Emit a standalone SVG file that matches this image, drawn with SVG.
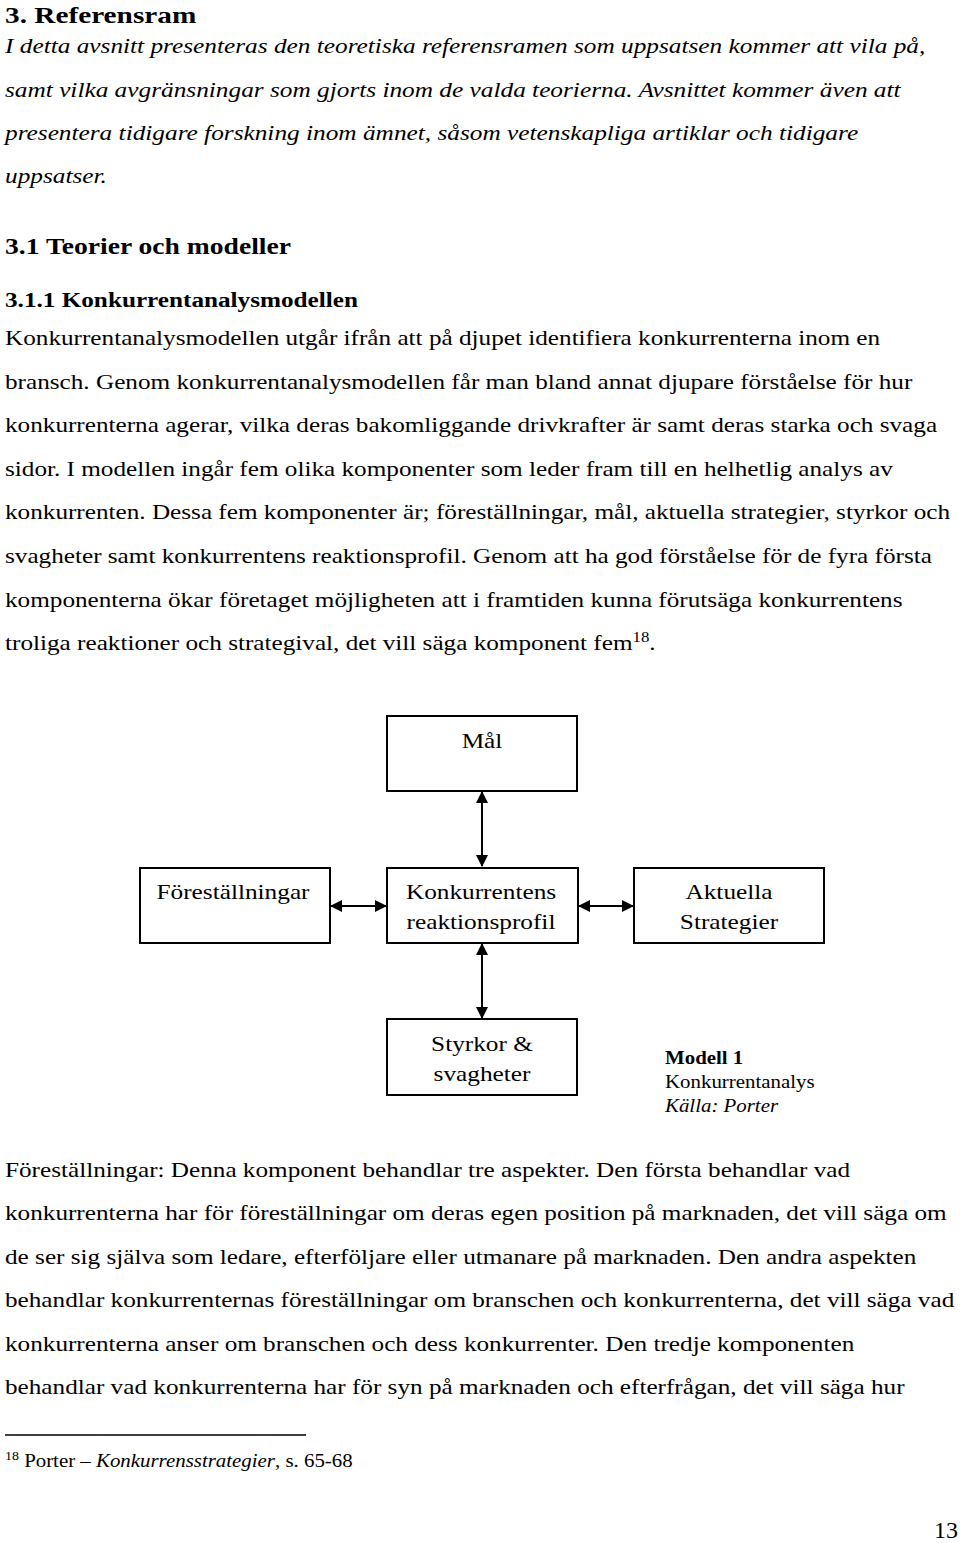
<svg xmlns="http://www.w3.org/2000/svg" width="960" height="1543" viewBox="0 0 960 1543">
<style>
text{font-family:"Liberation Serif","Times New Roman",serif;fill:#000}
.h{font-weight:bold;font-size:24px}
.h2{font-weight:bold;font-size:22px}
.b{font-size:21px}
.i{font-size:21px;font-style:italic}
.n{font-size:22px;text-anchor:middle}
.c{font-size:18px}
.box{fill:#fff;stroke:#000;stroke-width:2}
.con{stroke:#000;stroke-width:2;fill:none;marker-start:url(#ah);marker-end:url(#ah)}
</style>
<defs>
<marker id="ah" viewBox="0 0 12 12" refX="11" refY="6" markerWidth="12" markerHeight="12" markerUnits="userSpaceOnUse" orient="auto-start-reverse">
<path d="M0,0 L12,6 L0,12 Z" fill="#000"/>
</marker>
</defs>
<rect width="960" height="1543" fill="#fff"/>
<g id="text-top">
<text class="h" transform="translate(5 0) scale(1.22 1)" x="0" y="23">3. Referensram</text>
<g transform="translate(5 0) scale(1.205 1)">
<text class="i" x="0" y="53">I detta avsnitt presenteras den teoretiska referensramen som uppsatsen kommer att vila på,</text>
<text class="i" x="0" y="97">samt vilka avgränsningar som gjorts inom de valda teorierna. Avsnittet kommer även att</text>
<text class="i" x="0" y="140">presentera tidigare forskning inom ämnet, såsom vetenskapliga artiklar och tidigare</text>
<text class="i" x="0" y="183">uppsatser.</text>
</g>
<g transform="translate(5 0) scale(1.2 1)">
<text class="h2" x="0" y="254" style="font-size:23px">3.1 Teorier och modeller</text>
<text class="h2" x="0" y="307" style="font-size:21px">3.1.1 Konkurrentanalysmodellen</text>
<text class="b" x="0" y="345">Konkurrentanalysmodellen utgår ifrån att på djupet identifiera konkurrenterna inom en</text>
<text class="b" x="0" y="388.6">bransch. Genom konkurrentanalysmodellen får man bland annat djupare förståelse för hur</text>
<text class="b" x="0" y="432.2">konkurrenterna agerar, vilka deras bakomliggande drivkrafter är samt deras starka och svaga</text>
<text class="b" x="0" y="475.8">sidor. I modellen ingår fem olika komponenter som leder fram till en helhetlig analys av</text>
<text class="b" x="0" y="519.4">konkurrenten. Dessa fem komponenter är; föreställningar, mål, aktuella strategier, styrkor och</text>
<text class="b" x="0" y="563">svagheter samt konkurrentens reaktionsprofil. Genom att ha god förståelse för de fyra första</text>
<text class="b" x="0" y="606.6">komponenterna ökar företaget möjligheten att i framtiden kunna förutsäga konkurrentens</text>
<text class="b" x="0" y="650.2">troliga reaktioner och strategival, det vill säga komponent fem<tspan style="font-size:14px" dy="-8">18</tspan><tspan dy="8">.</tspan></text>
</g>
</g>
<g id="connectors">
<line class="con" x1="482" y1="792" x2="482" y2="866"/>
<line class="con" x1="482" y1="944" x2="482" y2="1018"/>
<line class="con" x1="331" y1="906" x2="386" y2="906"/>
<line class="con" x1="579" y1="906" x2="633" y2="906"/>
</g>
<g id="node-mal">
<rect class="box" x="387" y="716" width="190" height="75"/>
<text class="n" transform="translate(482 0) scale(1.15 1)" x="0" y="748">Mål</text>
</g>
<g id="node-forestallningar">
<rect class="box" x="140" y="868" width="190" height="75"/>
<text class="n" transform="translate(233 0) scale(1.15 1)" x="0" y="899">Föreställningar</text>
</g>
<g id="node-reaktionsprofil">
<rect class="box" x="387" y="868" width="191" height="75"/>
<g transform="translate(481 0) scale(1.15 1)">
<text class="n" x="0" y="899">Konkurrentens</text>
<text class="n" x="0" y="929">reaktionsprofil</text>
</g>
</g>
<g id="node-aktuella">
<rect class="box" x="634" y="868" width="190" height="75"/>
<g transform="translate(729 0) scale(1.15 1)">
<text class="n" x="0" y="899">Aktuella</text>
<text class="n" x="0" y="929">Strategier</text>
</g>
</g>
<g id="node-styrkor">
<rect class="box" x="387" y="1019" width="190" height="76"/>
<g transform="translate(482 0) scale(1.15 1)">
<text class="n" x="0" y="1051">Styrkor &amp;</text>
<text class="n" x="0" y="1081">svagheter</text>
</g>
</g>
<g id="caption" transform="translate(665 0) scale(1.16 1)">
<text class="c" x="0" y="1064" style="font-weight:bold">Modell 1</text>
<text class="c" x="0" y="1088">Konkurrentanalys</text>
<text class="c" x="0" y="1112" style="font-style:italic">Källa: Porter</text>
</g>
<g id="text-bottom">
<g transform="translate(5 0) scale(1.2 1)">
<text class="b" x="0" y="1177">Föreställningar: Denna komponent behandlar tre aspekter. Den första behandlar vad</text>
<text class="b" x="0" y="1220.5">konkurrenterna har för föreställningar om deras egen position på marknaden, det vill säga om</text>
<text class="b" x="0" y="1264">de ser sig själva som ledare, efterföljare eller utmanare på marknaden. Den andra aspekten</text>
<text class="b" x="0" y="1307.5">behandlar konkurrenternas föreställningar om branschen och konkurrenterna, det vill säga vad</text>
<text class="b" x="0" y="1351">konkurrenterna anser om branschen och dess konkurrenter. Den tredje komponenten</text>
<text class="b" x="0" y="1394.5">behandlar vad konkurrenterna har för syn på marknaden och efterfrågan, det vill säga hur</text>
</g>
<line x1="5" y1="1435" x2="306" y2="1435" stroke="#000" stroke-width="1.5"/>
<text x="0" y="1467" class="c" transform="translate(5 0) scale(1.16 1)"><tspan style="font-size:12px" dy="-7">18</tspan><tspan dy="7"> Porter – </tspan><tspan style="font-style:italic">Konkurrensstrategier</tspan>, s. 65-68</text>
<text x="958" y="1538" style="font-size:24px" text-anchor="end">13</text>
</g>
</svg>
